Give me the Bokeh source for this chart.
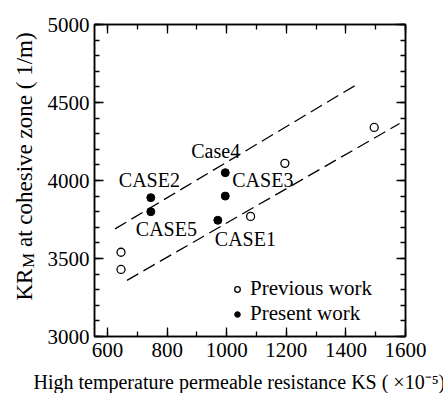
import math

from bokeh.core.properties import value
from bokeh.embed import file_html
from bokeh.layouts import column, row
from bokeh.models import (ColumnDataSource, Legend, LinearAxis, Range1d,
                          SingleIntervalTicker)
from bokeh.plotting import figure
from bokeh.resources import INLINE

# Previous work (open circles)
prev_ks = [645, 645, 1080, 1195, 1495]
prev_kr = [3540, 3430, 3770, 4110, 4340]

# Present work (filled circles), one per case
case_names = ["CASE1", "CASE2", "CASE3", "Case4", "CASE5"]
pres_ks = [970, 745, 995, 995, 745]
pres_kr = [3745, 3890, 3900, 4050, 3800]

# Dashed bounding lines
upper_ks = [625, 1445]
upper_kr = [3690, 4625]
lower_ks = [665, 1580]
lower_kr = [3360, 4365]

x_title = "High temperature permeable resistance KS ( \u00d710\u207b\u2075)"
y_title_parts = ["KR", "M", "at cohesive zone ( 1/m)"]

FONT = "Liberation Serif"
MID = 0.3375       # baseline sits this many em below the middle of the text box
W, H = 443, 393
LEFT_W = 44        # strip holding the vertical axis title
MAIN_H = 370       # plot part; the horizontal axis title sits below it
FRAME_TOP, FRAME_BOTTOM = 24, 336


def blank_figure(width, height, **kw):
    f = figure(width=width, height=height, output_backend="svg",
               toolbar_location=None, x_axis_location=None,
               y_axis_location=None, **kw)
    f.grid.visible = False
    f.outline_line_color = None
    f.background_fill_color = "white"
    f.border_fill_color = "white"
    return f


# ---- main plot -------------------------------------------------------------
p = figure(width=W - LEFT_W, height=MAIN_H, output_backend="svg",
           toolbar_location=None,
           x_range=Range1d(556, 1600), y_range=Range1d(3000, 5000),
           x_axis_location=None, y_axis_location=None,
           min_border_left=94 - LEFT_W, min_border_right=38,
           min_border_top=FRAME_TOP, min_border_bottom=MAIN_H - FRAME_BOTTOM)
p.grid.visible = False
p.outline_line_color = "black"
p.outline_line_width = 1.5
p.background_fill_color = "white"
p.border_fill_color = "white"


def make_axis(kind, show_labels):
    if kind == "x":
        ticker = SingleIntervalTicker(interval=200, num_minor_ticks=2)
    else:
        ticker = SingleIntervalTicker(interval=500, num_minor_ticks=5)
    ax = LinearAxis(ticker=ticker)
    ax.axis_line_color = "black"
    ax.axis_line_width = 1.5
    ax.major_tick_in = 9
    ax.major_tick_out = 0
    ax.minor_tick_in = 5
    ax.minor_tick_out = 0
    ax.major_tick_line_width = 1.3
    ax.minor_tick_line_width = 1.3
    ax.major_label_text_font = FONT
    if show_labels:
        ax.major_label_text_color = "black"
        ax.major_label_text_font_size = "21px"
        ax.major_label_standoff = 6 if kind == "x" else 5
    else:
        # mirrored axis: ticks only
        ax.major_label_text_color = None
        ax.major_label_text_font_size = "8px"
        ax.major_label_standoff = 0
    return ax


p.add_layout(make_axis("x", True), "below")
p.add_layout(make_axis("y", True), "left")
p.add_layout(make_axis("x", False), "above")
p.add_layout(make_axis("y", False), "right")

# Dashed lines
p.line(upper_ks, upper_kr, line_color="black", line_width=1.3, line_dash="13 6")
p.line(lower_ks, lower_kr, line_color="black", line_width=1.3, line_dash="13 6")

# Points
r_prev = p.scatter(prev_ks, prev_kr, marker="circle", size=8,
                   fill_color="white", line_color="black", line_width=1.3)
r_pres = p.scatter(pres_ks, pres_kr, marker="circle", size=8,
                   fill_color="black", line_color="black")

# Case labels: pixel offsets from each point to the label's baseline start
CASE_PX = 20
label_dx = {"CASE1": -3, "CASE2": -32, "CASE3": 7, "Case4": -34, "CASE5": -15}
label_dy = {"CASE1": 25, "CASE2": -11, "CASE3": -9, "Case4": -15, "CASE5": 24}
src = ColumnDataSource(dict(
    x=pres_ks, y=pres_kr, text=case_names,
    dx=[label_dx[n] for n in case_names],
    dy=[label_dy[n] - MID * CASE_PX for n in case_names],
))
p.text(x="x", y="y", text="text", x_offset="dx", y_offset="dy", source=src,
       text_font=value(FONT), text_font_size=f"{CASE_PX}px", text_color="black",
       text_align="left", text_baseline="middle")

# Legend
legend = Legend(items=[("Previous work", [r_prev]), ("Present work", [r_pres])],
                location=(136, 10), orientation="vertical",
                padding=0, margin=0, spacing=0,
                glyph_width=14, glyph_height=24, label_height=24,
                label_standoff=6,
                label_text_font=FONT, label_text_font_size="21px",
                label_text_color="black",
                border_line_alpha=0, background_fill_alpha=0)
p.add_layout(legend)

# ---- vertical axis title (KR with subscript M), reading bottom to top -------
# The strip's frame lines up with the main frame, so its y range is given in
# pixels above the strip's bottom edge over that same span.
yl = blank_figure(LEFT_W, MAIN_H,
                  x_range=Range1d(0, LEFT_W),
                  y_range=Range1d(MAIN_H - FRAME_BOTTOM, MAIN_H - FRAME_TOP),
                  min_border_left=0, min_border_right=0,
                  min_border_top=FRAME_TOP,
                  min_border_bottom=MAIN_H - FRAME_BOTTOM)
y_sizes = [23, 17, 23]
y_baselines = [31.7, 33.5, 31.7]
yl_src = ColumnDataSource(dict(
    x=[b - MID * s for b, s in zip(y_baselines, y_sizes)],
    y=[MAIN_H - 300, MAIN_H - 267.5, MAIN_H - 246.5],
    text=y_title_parts,
    size=[f"{s}px" for s in y_sizes],
))
yl.text(x="x", y="y", text="text", source=yl_src, angle=math.pi / 2,
        text_font=value(FONT), text_font_size="size", text_color="black",
        text_align="left", text_baseline="middle")

# ---- horizontal axis title ---------------------------------------------------
xl_h = H - MAIN_H
X_PX = 20
xl = blank_figure(W, xl_h, x_range=Range1d(0, W), y_range=Range1d(0, xl_h),
                  min_border=0)
xl.text(x=[33], y=[H - 388 + MID * X_PX], text=[x_title],
        text_font=value(FONT), text_font_size=f"{X_PX}px", text_color="black",
        text_align="left", text_baseline="middle")

layout = column(row(yl, p, spacing=0), xl, spacing=0)

open("out.html", "w").write(file_html(layout, INLINE))
